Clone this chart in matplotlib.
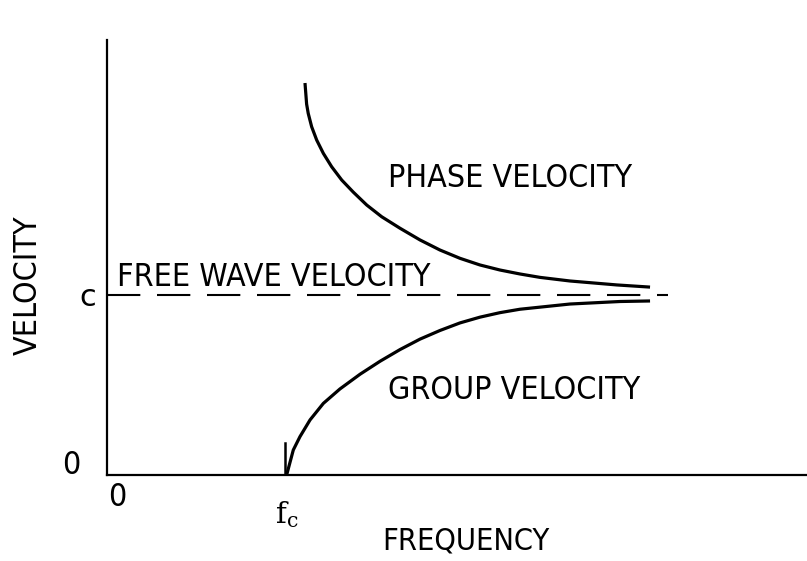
import matplotlib.pyplot as plt

# frequency in units of f_c, velocity in units of c
phase_f = [1.100, 1.109, 1.118, 1.137, 1.165, 1.202, 1.248, 1.304, 1.368, 1.443, 1.526,
           1.628, 1.739, 1.850, 1.961, 2.072, 2.183, 2.294, 2.406, 2.572, 2.833, 3.017]
phase_v = [2.178, 2.061, 2.009, 1.935, 1.861, 1.787, 1.713, 1.639, 1.572, 1.500, 1.435,
           1.371, 1.306, 1.250, 1.204, 1.167, 1.139, 1.117, 1.098, 1.078, 1.056, 1.044]

group_f = [0.998, 1.035, 1.072, 1.128, 1.202, 1.294, 1.406, 1.517, 1.628, 1.739, 1.850,
           1.961, 2.072, 2.183, 2.294, 2.572, 2.850, 3.017]
group_v = [0.0, 0.139, 0.213, 0.306, 0.398, 0.478, 0.560, 0.632, 0.697, 0.755, 0.803,
           0.845, 0.877, 0.902, 0.921, 0.950, 0.964, 0.967]

free_f = [0.0, 3.117]
free_v = [1.0, 1.0]

fc = 0.989
xmax = 3.889
ymax = 2.417

font = ['DejaVu Sans']
stretch = 'condensed'

fig = plt.figure(figsize=(8.07, 5.61), dpi=100)
ax = fig.add_axes([107/807, 86/561, 700/807, 435/561])
ax.set_xlim(0, xmax)
ax.set_ylim(0, ymax)
for s in ['top', 'right']:
    ax.spines[s].set_visible(False)
ax.spines['left'].set_linewidth(1.6)
ax.spines['bottom'].set_linewidth(1.6)
ax.set_xticks([])
ax.set_yticks([])

ax.plot(phase_f, phase_v, color='black', lw=2.3, solid_capstyle='butt', solid_joinstyle='round')
ax.plot(group_f, group_v, color='black', lw=2.3, solid_capstyle='butt', solid_joinstyle='round')
ax.plot(free_f, free_v, color='black', lw=1.5, linestyle=(0, (16, 8)))
ax.plot([fc, fc], [0, 0.178], color='black', lw=1.8)

txt = dict(family=font, stretch=stretch, fontsize=23)
ax.text(1.561, 1.647, 'PHASE VELOCITY', va='center', ha='left', **txt)
ax.text(1.561, 0.472, 'GROUP VELOCITY', va='center', ha='left', **txt)
ax.text(0.055, 1.05, 'FREE WAVE VELOCITY', va='baseline', ha='left', **txt)

fig.text(88/807, 1 - 297/561, 'c', family=font, fontsize=22, ha='center', va='center')
fig.text(71/807, 1 - 465/561, '0', ha='center', va='center', **txt)
fig.text(117/807, 1 - 498/561, '0', ha='center', va='center', **txt)
fig.text(287/807, 1 - 515/561, r'$\mathregular{f_c}$', family='DejaVu Serif', fontsize=21,
         ha='center', va='center')
fig.text(466/807, 1 - 541/561, 'FREQUENCY', ha='center', va='center',
         family=font, stretch=stretch, fontsize=22)
fig.text(28/807, 1 - 285/561, 'VELOCITY', ha='center', va='center', rotation=90, **txt)

fig.savefig('out.png', dpi=100)
